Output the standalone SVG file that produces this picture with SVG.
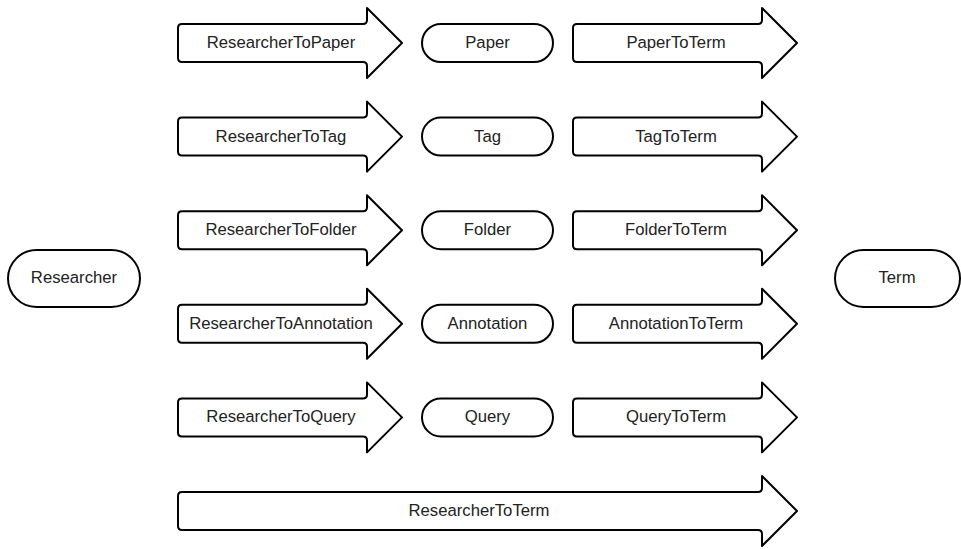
<svg xmlns="http://www.w3.org/2000/svg" xmlns:xlink="http://www.w3.org/1999/xlink" width="961" height="549" viewBox="0 0 961 549">
<style>
.s{fill:#fff;stroke:#000;stroke-width:2;stroke-linejoin:round}
.t{font-family:"Liberation Sans",Arial,sans-serif;font-size:16.7px;fill:#222;text-anchor:middle;dominant-baseline:central}
</style>
<defs>
<path id="arr" d="M182,-19 H363 Q367,-19 367,-23 V-35 L402,0 L367,35 V23 Q367,19 363,19 H182 Q178,19 178,15 V-15 Q178,-19 182,-19 Z"/>
<rect id="pill" x="422" y="-19" width="131" height="38" rx="19"/>
</defs>
<rect width="961" height="549" fill="#fff"/>
<g id="researcher"><rect class="s" x="8" y="250" width="132" height="57" rx="28.5"/><text class="t" x="74" y="277.5">Researcher</text></g>
<g id="term"><rect class="s" x="835" y="250" width="125" height="57" rx="28.5"/><text class="t" x="897" y="277.5">Term</text></g>
<g id="paper"><use class="s" href="#pill" y="43"/><text class="t" x="487.5" y="42.5">Paper</text></g>
<g id="tag"><use class="s" href="#pill" y="136.6"/><text class="t" x="487.5" y="136.1">Tag</text></g>
<g id="folder"><use class="s" href="#pill" y="230.2"/><text class="t" x="487.5" y="229.7">Folder</text></g>
<g id="annotation"><use class="s" href="#pill" y="323.8"/><text class="t" x="487.5" y="323.3">Annotation</text></g>
<g id="query"><use class="s" href="#pill" y="417.4"/><text class="t" x="487.5" y="416.9">Query</text></g>
<g id="connectors">
<g id="r2paper"><use class="s" href="#arr" y="43"/><text class="t" x="281" y="42.5">ResearcherToPaper</text></g>
<g id="r2tag"><use class="s" href="#arr" y="136.6"/><text class="t" x="281" y="136.1">ResearcherToTag</text></g>
<g id="r2folder"><use class="s" href="#arr" y="230.2"/><text class="t" x="281" y="229.7">ResearcherToFolder</text></g>
<g id="r2annotation"><use class="s" href="#arr" y="323.8"/><text class="t" x="281" y="323.3">ResearcherToAnnotation</text></g>
<g id="r2query"><use class="s" href="#arr" y="417.4"/><text class="t" x="281" y="416.9">ResearcherToQuery</text></g>
<g id="paper2term"><use class="s" href="#arr" x="395" y="43"/><text class="t" x="676" y="42.5">PaperToTerm</text></g>
<g id="tag2term"><use class="s" href="#arr" x="395" y="136.6"/><text class="t" x="676" y="136.1">TagToTerm</text></g>
<g id="folder2term"><use class="s" href="#arr" x="395" y="230.2"/><text class="t" x="676" y="229.7">FolderToTerm</text></g>
<g id="annotation2term"><use class="s" href="#arr" x="395" y="323.8"/><text class="t" x="676" y="323.3">AnnotationToTerm</text></g>
<g id="query2term"><use class="s" href="#arr" x="395" y="417.4"/><text class="t" x="676" y="416.9">QueryToTerm</text></g>
<g id="r2term"><path class="s" d="M182,492 H758 Q762,492 762,488 V476 L797,511 L762,546 V534 Q762,530 758,530 H182 Q178,530 178,526 V496 Q178,492 182,492 Z"/><text class="t" x="479" y="510.5">ResearcherToTerm</text></g>
</g>
</svg>
